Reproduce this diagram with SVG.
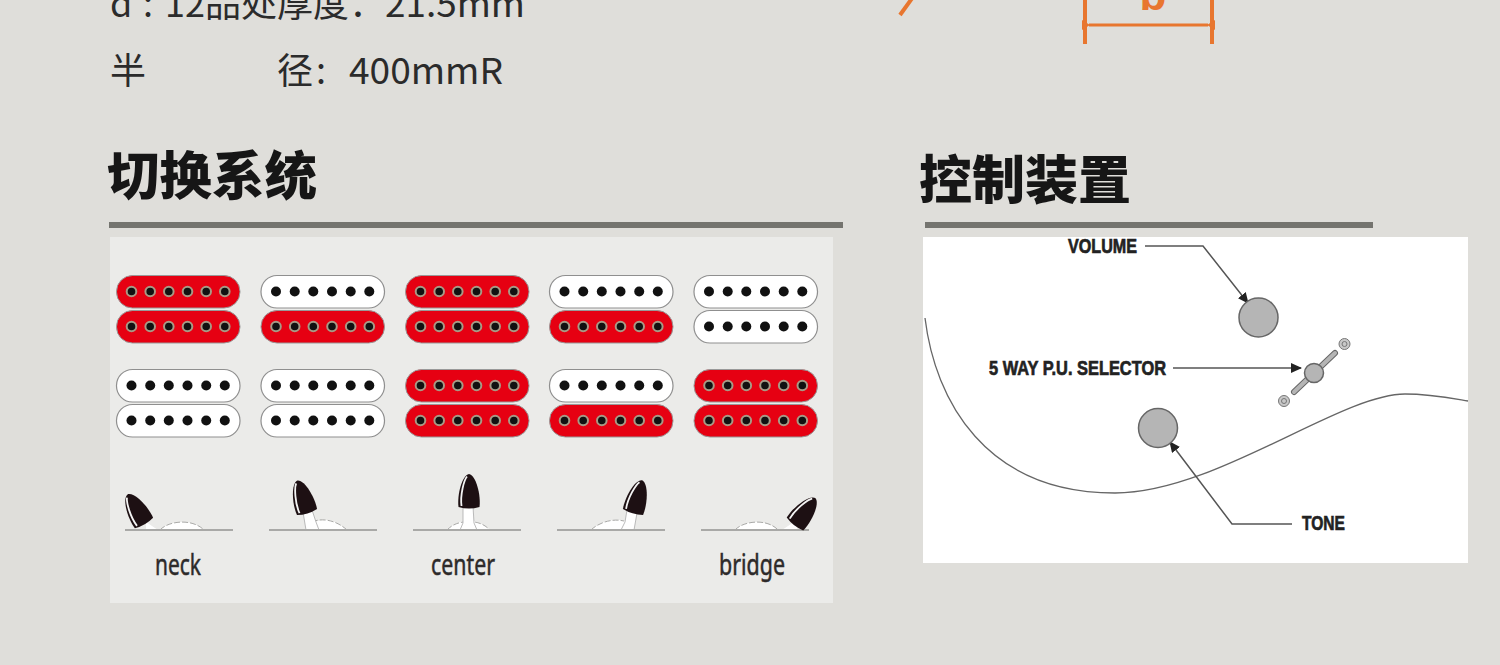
<svg xmlns="http://www.w3.org/2000/svg" width="1500" height="665" viewBox="0 0 1500 665">
<style>
.body{font-family:"Noto Sans CJK SC","Noto Sans",sans-serif;font-size:36px;fill:#2b2b2b}
.h{font-family:"Noto Sans CJK SC",sans-serif;font-size:52px;font-weight:900;fill:#161616}
.rule{fill:#74746f}
.lab{font-family:"Noto Sans",sans-serif;font-size:29px;fill:#2d2a2a;stroke:#2d2a2a;stroke-width:.5px}
.cap{font-family:"Liberation Sans",sans-serif;font-size:21px;font-weight:700;fill:#222;stroke:#222;stroke-width:.7px}
.org{stroke:#e8762f;stroke-width:4;fill:none}
.base{stroke:#a9a9a7;stroke-width:2;fill:none}
.hump{fill:#fff;stroke:none}
.humpline{fill:none;stroke:#a9a9a7;stroke-width:1;stroke-dasharray:6 2}
.stem{fill:#fff;stroke:#aaa;stroke-width:.8}
.conn{stroke:#555;stroke-width:1.5;fill:none}
.knob{fill:#b5b5b5;stroke:#666;stroke-width:1.5}
.screw{fill:#c8c8c8;stroke:#777;stroke-width:1}
.screwin{fill:none;stroke:#777;stroke-width:1}
</style>
<defs>
<marker id="ah" markerUnits="userSpaceOnUse" markerWidth="11" markerHeight="10" refX="10" refY="5" orient="auto"><path d="M0,0L11,5L0,10Z" fill="#222"/></marker>
<marker id="oa" markerUnits="userSpaceOnUse" markerWidth="8" markerHeight="10" refX="1" refY="5" orient="auto-start-reverse"><path d="M8,0L0,5L8,10Z" fill="#e8762f"/></marker>
<g id="poles-r"><g fill="#111" stroke="#a89a86" stroke-width="2"><circle cx="15.500" cy="16.500" r="4.800"/><circle cx="34.200" cy="16.500" r="4.800"/><circle cx="52.800" cy="16.500" r="4.800"/><circle cx="71.500" cy="16.500" r="4.800"/><circle cx="90.200" cy="16.500" r="4.800"/><circle cx="108.800" cy="16.500" r="4.800"/></g></g>
<g id="poles-w"><g fill="#111"><circle cx="15.500" cy="16.500" r="5"/><circle cx="34.200" cy="16.500" r="5"/><circle cx="52.800" cy="16.500" r="5"/><circle cx="71.500" cy="16.500" r="5"/><circle cx="90.200" cy="16.500" r="5"/><circle cx="108.800" cy="16.500" r="5"/></g></g>
<g id="red"><rect x="0.500" y="0.500" width="123.500" height="32.500" rx="16" fill="#e60012" stroke="#999" stroke-width="1"/><use href="#poles-r"/></g>
<g id="white"><rect x="0.500" y="0.500" width="123.500" height="32.500" rx="16" fill="#fff" stroke="#8f8f8f" stroke-width="1.200"/><use href="#poles-w"/></g>
<g id="bat"><path d="M-10.500,0C-12,-12 -7,-32 0,-33C7,-32 12,-12 10.500,0Q0,3 -10.500,0Z" fill="#1d1013"/><path d="M-7.500,-1C-9,-12 -5,-27 -2,-30.500" fill="none" stroke="#f4f4f4" stroke-width="1.800"/></g>
</defs>
<rect width="1500" height="665" fill="#dfdeda"/>
<g id="spec-text">
<text class="body" x="110" y="17">d</text><text class="body" x="143" y="17">:</text><text class="body" x="165" y="17">12品处厚度：</text><text class="body" x="385" y="17" textLength="140" lengthAdjust="spacingAndGlyphs">21.5mm</text>
<text class="body" x="110" y="84">半</text><text class="body" x="277" y="84">径</text><text class="body" x="316" y="84">:</text><text class="body" x="349" y="84" textLength="154" lengthAdjust="spacingAndGlyphs">400mmR</text>
</g>
<g id="neck-diagram-fragment"><path class="org" d="M900,15L913,-3"/><path class="org" d="M1085,-2V44M1212,-2V44"/><path d="M1089,25H1208" fill="none" stroke="#e8762f" stroke-width="3" marker-start="url(#oa)" marker-end="url(#oa)"/><text x="1153" y="10" text-anchor="middle" font-family="Liberation Sans,sans-serif" font-weight="700" font-size="44" fill="#e8762f">b</text></g>
<g id="heading-switch"><text class="h" x="107" y="195" textLength="210" lengthAdjust="spacingAndGlyphs">切换系统</text><rect class="rule" x="109" y="222" width="734" height="6"/></g>
<g id="heading-control"><text class="h" x="919" y="199" textLength="212" lengthAdjust="spacingAndGlyphs">控制装置</text><rect class="rule" x="925" y="222" width="448" height="6"/></g>
<g id="switch-panel"><rect x="110" y="237" width="723" height="366" fill="#ebebe9"/></g>
<g id="pickups">
<g id="pos1"><use href="#red" x="116" y="275"/><use href="#red" x="116" y="310"/><use href="#white" x="116" y="369"/><use href="#white" x="116" y="404"/></g>
<g id="pos2"><use href="#white" x="260.500" y="275"/><use href="#red" x="260.500" y="310"/><use href="#white" x="260.500" y="369"/><use href="#white" x="260.500" y="404"/></g>
<g id="pos3"><use href="#red" x="405" y="275"/><use href="#red" x="405" y="310"/><use href="#red" x="405" y="369"/><use href="#red" x="405" y="404"/></g>
<g id="pos4"><use href="#white" x="549" y="275"/><use href="#red" x="549" y="310"/><use href="#white" x="549" y="369"/><use href="#red" x="549" y="404"/></g>
<g id="pos5"><use href="#white" x="693.500" y="275"/><use href="#white" x="693.500" y="310"/><use href="#red" x="693.500" y="369"/><use href="#red" x="693.500" y="404"/></g>
</g>
<g id="lever-neck"><path class="hump" d="M160,530C168,521 192,518 204,530Z"/><path class="humpline" d="M160,530C168,521 192,518 204,530"/><path d="M146,522L158,530H146Z" fill="#fff"/><path class="base" d="M125,530H233"/><use href="#bat" transform="translate(144,523) rotate(-30)"/><text class="lab" x="155" y="575" textLength="46" lengthAdjust="spacingAndGlyphs">neck</text></g>
<g id="lever-2"><path class="hump" d="M304,530C312,524 315,520 325,520C335,520 342,526 347,530Z"/><path class="humpline" d="M312,522C320,518 335,519 347,530"/><path class="stem" d="M303,512L312,510L316,522L319,530H306Z"/><path class="base" d="M269,530H377"/><use href="#bat" transform="translate(307,512) rotate(-17)"/></g>
<g id="lever-center"><path class="hump" d="M447,530C453,524 460,522 463,521H475C480,523 485,525 490,530Z"/><path class="humpline" d="M447,530C453,524 458,523 463,522M475,522C480,523 485,525 490,530"/><path class="stem" d="M463,506L473,506L474,523L477,530H460L463,523Z"/><path class="base" d="M413,530H521"/><use href="#bat" transform="translate(469,507)"/><text class="lab" x="431" y="575" textLength="64" lengthAdjust="spacingAndGlyphs">center</text></g>
<g id="lever-4"><path class="hump" d="M591,530C598,524 606,520 616,520C625,520 630,522 634,530Z"/><path class="humpline" d="M591,530C598,523 612,518 624,521"/><path class="stem" d="M627,510L637,513L634,530H621L625,522Z"/><path class="base" d="M557,530H665"/><use href="#bat" transform="translate(633,512) rotate(16)"/></g>
<g id="lever-bridge"><path class="hump" d="M735,530C743,521 767,518 778,530Z"/><path class="humpline" d="M735,530C743,521 767,518 778,530"/><path d="M782,530L794,522L798,530Z" fill="#fff"/><path class="base" d="M701,530H809"/><use href="#bat" transform="translate(795,524) rotate(38)"/><text class="lab" x="719" y="575" textLength="66" lengthAdjust="spacingAndGlyphs">bridge</text></g>
<g id="control-panel"><rect x="923" y="237" width="545" height="326" fill="#fff"/><path d="M925,318C935,400 985,493 1115,493C1215,493 1340,394 1405,394C1430,394 1450,398 1468,401" fill="none" stroke="#666" stroke-width="1.300"/></g>
<g id="connectors">
<path class="conn" marker-end="url(#ah)" d="M1145,246H1203L1248,303"/>
<path class="conn" marker-end="url(#ah)" d="M1173,368H1301"/>
<path class="conn" marker-end="url(#ah)" d="M1292,524H1232L1170,442"/>
</g>
<g id="volume"><circle class="knob" cx="1258.500" cy="317.500" r="19.500"/><text class="cap" x="1068" y="253" textLength="69" lengthAdjust="spacingAndGlyphs">VOLUME</text></g>
<g id="selector"><path d="M1294,392L1335,353" stroke="#666" stroke-width="6" stroke-linecap="round"/><path d="M1294,392L1335,353" stroke="#b5b5b5" stroke-width="4" stroke-linecap="round"/><circle class="knob" cx="1314" cy="373" r="9.500"/><circle class="screw" cx="1344.500" cy="344" r="5.500"/><circle class="screwin" cx="1344.500" cy="344" r="2.500"/><circle class="screw" cx="1284" cy="401" r="5.500"/><circle class="screwin" cx="1284" cy="401" r="2.500"/><text class="cap" x="989" y="375" textLength="177" lengthAdjust="spacingAndGlyphs">5 WAY P.U. SELECTOR</text></g>
<g id="tone"><circle class="knob" cx="1158" cy="428" r="19.500"/><text class="cap" x="1302" y="530" textLength="43" lengthAdjust="spacingAndGlyphs">TONE</text></g>
</svg>
